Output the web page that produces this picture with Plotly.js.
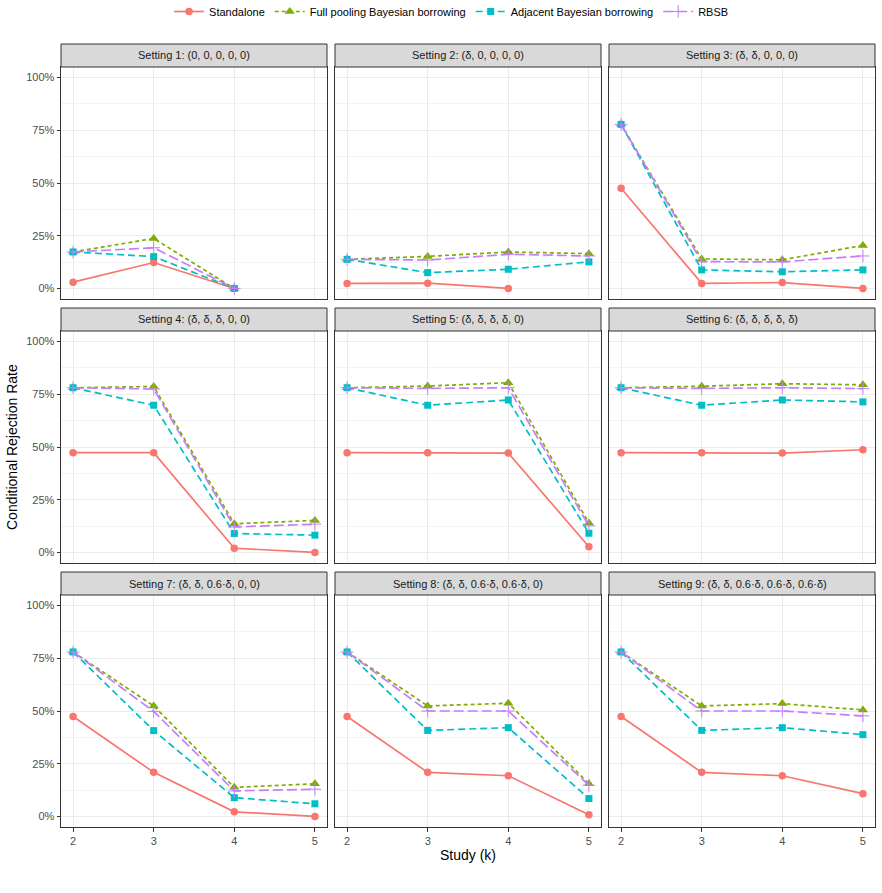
<!DOCTYPE html>
<html>
<head>
<meta charset="utf-8">
<script src="https://cdn.plot.ly/plotly-3.0.1.min.js"></script>
<style>
  html, body { margin: 0; padding: 0; background: #fff; }
  #chart { width: 882px; height: 893px; }
</style>
</head>
<body>
<div id="chart"></div>
<script>
// Study index on the x axis
const studies = [2, 3, 4, 5];

// Facet titles, one per simulation setting
const settingTitles = [
  "Setting 1: (0, 0, 0, 0, 0)",
  "Setting 2: (δ, 0, 0, 0, 0)",
  "Setting 3: (δ, δ, 0, 0, 0)",
  "Setting 4: (δ, δ, δ, 0, 0)",
  "Setting 5: (δ, δ, δ, δ, 0)",
  "Setting 6: (δ, δ, δ, δ, δ)",
  "Setting 7: (δ, δ, 0.6·δ, 0, 0)",
  "Setting 8: (δ, δ, 0.6·δ, 0.6·δ, 0)",
  "Setting 9: (δ, δ, 0.6·δ, 0.6·δ, 0.6·δ)"
];

// Conditional rejection rates per setting (rows) and study k = 2..5 (columns)
const standalone = [
  [0.030, 0.123, 0.000, null],
  [0.024, 0.025, 0.000, null],
  [0.475, 0.024, 0.028, 0.000],
  [0.473, 0.473, 0.020, 0.000],
  [0.473, 0.473, 0.471, 0.027],
  [0.473, 0.473, 0.471, 0.487],
  [0.474, 0.209, 0.022, 0.000],
  [0.474, 0.209, 0.193, 0.008],
  [0.474, 0.209, 0.193, 0.108]
];
const fullPooling = [
  [0.173, 0.237, 0.000, null],
  [0.138, 0.152, 0.173, 0.165],
  [0.778, 0.140, 0.136, 0.204],
  [0.781, 0.787, 0.136, 0.152],
  [0.781, 0.789, 0.805, 0.140],
  [0.781, 0.788, 0.800, 0.795],
  [0.780, 0.524, 0.138, 0.155],
  [0.780, 0.524, 0.537, 0.155],
  [0.780, 0.524, 0.535, 0.505]
];
const adjacent = [
  [0.173, 0.151, 0.000, null],
  [0.138, 0.075, 0.091, 0.126],
  [0.778, 0.088, 0.079, 0.088],
  [0.781, 0.698, 0.090, 0.082],
  [0.781, 0.698, 0.723, 0.091],
  [0.781, 0.698, 0.723, 0.714],
  [0.780, 0.407, 0.089, 0.060],
  [0.780, 0.408, 0.421, 0.085],
  [0.780, 0.408, 0.421, 0.388]
];
const rbsb = [
  [0.173, 0.193, 0.000, null],
  [0.138, 0.135, 0.162, 0.154],
  [0.778, 0.127, 0.126, 0.154],
  [0.781, 0.775, 0.121, 0.134],
  [0.781, 0.778, 0.781, 0.126],
  [0.781, 0.778, 0.781, 0.777],
  [0.780, 0.498, 0.121, 0.129],
  [0.780, 0.500, 0.500, 0.148],
  [0.780, 0.500, 0.500, 0.477]
];

const methods = [
  { name: "Standalone", data: standalone, color: "#F8766D", dash: "solid",
    symbol: "circle", size: 7.5 },
  { name: "Full pooling Bayesian borrowing", data: fullPooling, color: "#7CAE00", dash: "4px,3px",
    symbol: "triangle-up", size: 9 },
  { name: "Adjacent Bayesian borrowing", data: adjacent, color: "#00BFC4", dash: "7px,4px",
    symbol: "square", size: 7 },
  { name: "RBSB", data: rbsb, color: "#C77CFF", dash: "10px,4px",
    symbol: "cross-thin", size: 9 }
];

// Page geometry (pixels) for the 3 x 3 panel grid
const W = 882, H = 893;
const colX = [[61, 327], [335, 601], [609, 875]];
const rowY = [[67, 299], [331, 563], [595, 827]];   // plotting area
const stripH = 23;

const traces = [];
const layout = {
  width: W, height: H,
  margin: { l: 0, r: 0, t: 0, b: 0, autoexpand: false },
  paper_bgcolor: "#ffffff",
  plot_bgcolor: "#ffffff",
  font: { family: "Liberation Sans, Arial, sans-serif", size: 11, color: "#4D4D4D" },
  showlegend: true,
  legend: {
    orientation: "h", x: 0.512, xanchor: "center", y: 1 + 3 / H, yanchor: "top",
    font: { size: 11, color: "#000000" }, itemwidth: 30, tracegroupgap: 0
  },
  shapes: [],
  annotations: [],
  hovermode: false
};

settingTitles.forEach((title, i) => {
  const r = Math.floor(i / 3), c = i % 3;
  const sfx = i === 0 ? "" : String(i + 1);
  const xa = "xaxis" + sfx, ya = "yaxis" + sfx;

  layout[xa] = {
    domain: [colX[c][0] / W, colX[c][1] / W],
    anchor: "y" + sfx,
    range: [1.85, 5.15],
    tickmode: "array", tickvals: studies, ticktext: studies.map(String),
    showgrid: true, gridcolor: "#EBEBEB", gridwidth: 1,
    zeroline: false,
    showline: true, mirror: true, linecolor: "#333333", linewidth: 1,
    ticks: r === 2 ? "outside" : "", ticklen: 3.5, tickcolor: "#333333", tickwidth: 1,
    showticklabels: r === 2,
    tickfont: { size: 11, color: "#4D4D4D" }
  };
  layout[ya] = {
    domain: [1 - rowY[r][1] / H, 1 - rowY[r][0] / H],
    anchor: "x" + sfx,
    range: [-0.05, 1.05],
    tickmode: "linear", tick0: 0, dtick: 0.25, tickformat: ".0%",
    showgrid: true, gridcolor: "#EBEBEB", gridwidth: 1,
    minor: { dtick: 0.125, tick0: 0, showgrid: true, gridcolor: "#F0F0F0", gridwidth: 0.8 },
    zeroline: false,
    showline: true, mirror: true, linecolor: "#333333", linewidth: 1,
    ticks: c === 0 ? "outside" : "", ticklen: 3.5, tickcolor: "#333333", tickwidth: 1,
    showticklabels: c === 0,
    tickfont: { size: 11, color: "#4D4D4D" }
  };

  // Facet strip
  layout.shapes.push({
    type: "rect", xref: "paper", yref: "paper",
    x0: colX[c][0] / W, x1: colX[c][1] / W,
    y0: 1 - rowY[r][0] / H, y1: 1 - (rowY[r][0] - stripH) / H,
    fillcolor: "#D9D9D9", line: { color: "#333333", width: 1 }, layer: "above"
  });
  layout.annotations.push({
    xref: "paper", yref: "paper",
    x: (colX[c][0] + colX[c][1]) / 2 / W,
    y: 1 - (rowY[r][0] - stripH / 2) / H,
    text: title, showarrow: false, xanchor: "center", yanchor: "middle",
    font: { size: 11, color: "#1A1A1A" }
  });

  methods.forEach(m => {
    traces.push({
      type: "scatter", mode: "lines+markers",
      x: studies, y: m.data[i],
      xaxis: "x" + sfx, yaxis: "y" + sfx,
      name: m.name, legendgroup: m.name, showlegend: i === 0,
      line: { color: m.color, dash: m.dash, width: 1.7 },
      marker: { color: m.color, symbol: m.symbol, size: m.size,
                line: { color: m.color, width: m.symbol === "cross-thin" ? 1 : 0 } },
      connectgaps: false
    });
  });
});

// Shared axis titles
layout.annotations.push({
  xref: "paper", yref: "paper", x: 468 / W, y: 1 - 855 / H,
  text: "Study (k)", showarrow: false, xanchor: "center", yanchor: "middle",
  font: { size: 14, color: "#000000" }
});
layout.annotations.push({
  xref: "paper", yref: "paper", x: 12 / W, y: 1 - 447 / H,
  text: "Conditional Rejection Rate", showarrow: false, textangle: -90,
  xanchor: "center", yanchor: "middle",
  font: { size: 14, color: "#000000" }
});

Plotly.newPlot("chart", traces, layout, { staticPlot: true, displayModeBar: false });
</script>
</body>
</html>
